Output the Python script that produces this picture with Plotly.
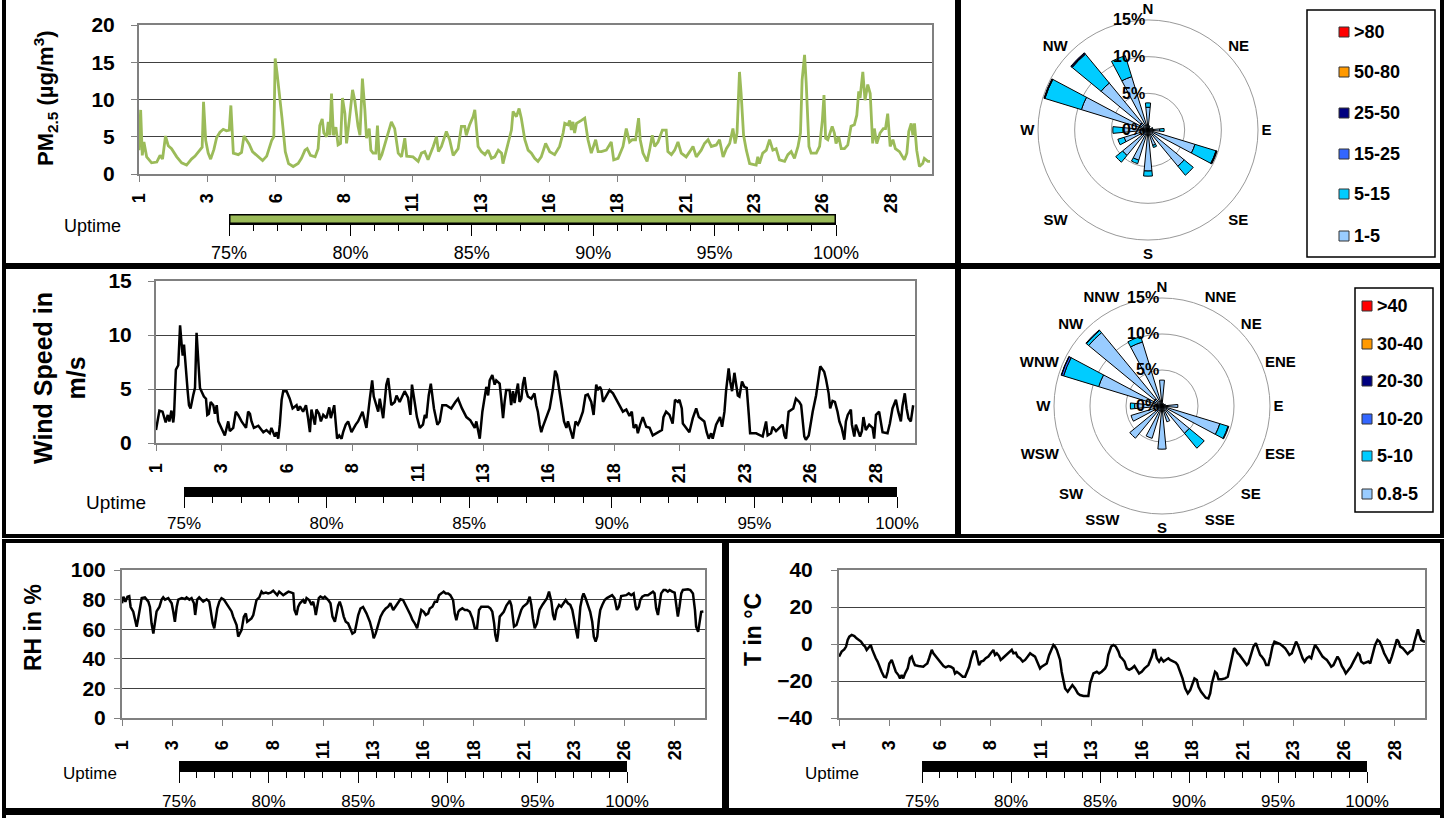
import plotly.graph_objects as go

W, H = 1445, 818
FONT = "Arial, 'Liberation Sans', sans-serif"

# ---------------- data ----------------
day_tickvals = [1, 3.5, 6, 8.5, 11, 13.5, 16, 18.5, 21, 23.5, 26, 28.5]
day_ticktext = ["1", "3", "6", "8", "11", "13", "16", "18", "21", "23", "26", "28"]

pm_day = [1.00, 1.06, 1.12, 1.18, 1.28, 1.46, 1.65, 1.77, 1.86, 1.97, 2.07, 2.19, 2.38, 2.56, 2.74, 2.92,
          3.05, 3.23, 3.31, 3.36, 3.44, 3.53, 3.62, 3.74, 3.84, 3.96, 4.08, 4.20, 4.30, 4.36, 4.45, 4.63,
          4.75, 4.84, 4.96, 5.03, 5.15, 5.32, 5.52, 5.67, 5.85, 5.93, 5.98, 6.05, 6.15, 6.23, 6.35, 6.47,
          6.64, 6.82, 6.94, 7.07, 7.15, 7.27, 7.44, 7.55, 7.61, 7.70, 7.76, 7.86, 7.92, 7.98, 8.04, 8.11,
          8.20, 8.28, 8.37, 8.44, 8.53, 8.59, 8.69, 8.81, 8.89, 9.01, 9.08, 9.17, 9.26, 9.32, 9.42, 9.48,
          9.56, 9.66, 9.72, 9.79, 9.88, 10.05, 10.23, 10.35, 10.48, 10.60, 10.72, 10.79, 11.02, 11.21,
          11.33, 11.45, 11.57, 11.76, 11.88, 11.95, 12.06, 12.24, 12.36, 12.49, 12.67, 12.79, 12.91, 12.97,
          13.09, 13.22, 13.28, 13.40, 13.52, 13.65, 13.77, 13.89, 14.01, 14.14, 14.26, 14.31, 14.44, 14.56,
          14.62, 14.68, 14.80, 14.90, 14.98, 15.11, 15.23, 15.35, 15.47, 15.59, 15.71, 15.87, 16.02, 16.20,
          16.38, 16.51, 16.57, 16.69, 16.75, 16.81, 16.87, 16.93, 17.00, 17.18, 17.30, 17.42, 17.54, 17.70,
          17.79, 17.91, 18.09, 18.27, 18.36, 18.52, 18.70, 18.82, 18.94, 19.04, 19.16, 19.27, 19.33, 19.43,
          19.58, 19.67, 19.77, 19.86, 19.98, 20.14, 20.28, 20.34, 20.47, 20.59, 20.71, 20.83, 21.01, 21.14,
          21.26, 21.38, 21.56, 21.68, 21.81, 21.93, 22.11, 22.23, 22.36, 22.48, 22.60, 22.72, 22.80, 22.87,
          22.96, 23.02, 23.11, 23.21, 23.33, 23.45, 23.57, 23.63, 23.69, 23.81, 23.94, 24.06, 24.18, 24.30,
          24.42, 24.61, 24.73, 24.85, 24.97, 25.10, 25.19, 25.25, 25.34, 25.40, 25.50, 25.58, 25.77, 25.89,
          25.99, 26.05, 26.11, 26.19, 26.35, 26.43, 26.49, 26.59, 26.68, 26.80, 26.92, 27.04, 27.16, 27.25,
          27.32, 27.37, 27.47, 27.55, 27.65, 27.74, 27.83, 27.89, 27.98, 28.10, 28.22, 28.30, 28.38, 28.47,
          28.57, 28.66, 28.81, 28.99, 29.08, 29.15, 29.24, 29.30, 29.36, 29.44, 29.54, 29.66, 29.72, 29.85,
          29.93]
pm_val = [3.2, 8.6, 2.5, 4.3, 2.3, 1.5, 1.6, 2.5, 2.0, 5.1, 3.8, 3.4, 2.3, 1.5, 1.2, 2.0,
          2.4, 3.2, 3.6, 9.7, 4.5, 2.8, 2.0, 3.3, 4.9, 5.6, 6.0, 5.8, 5.9, 9.2, 2.8, 2.6,
          2.9, 5.1, 4.5, 4.0, 3.0, 2.5, 1.8, 2.4, 4.5, 5.0, 15.5, 13.5, 10.3, 7.5, 3.0, 1.4,
          1.0, 1.4, 2.1, 3.2, 3.4, 2.5, 2.3, 3.4, 6.5, 7.4, 5.5, 5.0, 7.0, 5.2, 10.8, 5.2,
          6.3, 3.9, 4.1, 10.2, 8.1, 4.1, 7.2, 11.3, 9.9, 6.4, 5.2, 12.8, 8.6, 4.8, 6.1, 3.2,
          2.8, 2.8, 6.5, 1.9, 2.6, 4.8, 7.0, 6.1, 2.8, 2.3, 4.8, 2.4, 2.3, 1.7,
          2.8, 3.0, 1.9, 3.7, 5.0, 3.0, 3.7, 5.7, 4.6, 2.5, 3.4, 6.4, 6.4, 5.2,
          6.6, 7.7, 8.6, 3.7, 3.0, 2.6, 3.2, 2.1, 2.3, 3.2, 2.8, 1.4, 3.2, 5.0,
          5.9, 8.4, 7.7, 8.8, 7.5, 4.6, 3.2, 2.8, 2.1, 1.7, 2.3, 4.1, 3.0, 2.6,
          3.7, 5.5, 6.8, 6.6, 7.2, 5.9, 7.0, 5.5, 6.8, 7.2, 7.5, 4.6, 2.8, 4.6,
          3.0, 3.0, 3.2, 4.3, 1.9, 2.1, 3.7, 6.1, 4.3, 4.6, 4.6, 7.5, 4.6, 2.8,
          1.7, 3.2, 5.2, 3.7, 4.3, 5.9, 5.9, 3.0, 2.6, 3.2, 4.3, 2.8, 2.3, 3.0,
          3.7, 2.3, 3.2, 4.1, 4.6, 3.7, 3.9, 4.6, 2.3, 3.4, 4.1, 6.1, 4.1, 5.5,
          13.7, 10.8, 5.2, 3.2, 1.4, 1.3, 1.2, 2.3, 1.4, 2.8, 3.2, 4.6, 3.2, 3.4,
          1.9, 1.7, 2.6, 3.0, 2.1, 3.7, 5.5, 12.6, 16.0, 12.2, 3.7, 2.8, 2.8, 3.7,
          7.2, 10.6, 4.8, 4.6, 6.4, 5.5, 4.1, 5.0, 3.4, 3.4, 3.9, 6.4, 6.6, 7.9,
          11.1, 10.2, 13.7, 9.9, 12.0, 10.8, 4.1, 6.1, 4.1, 5.5, 6.1, 6.1, 8.1, 3.7,
          4.6, 3.4, 3.0, 1.9, 2.8, 5.7, 6.8, 5.2, 6.8, 3.2, 1.0, 1.4, 2.1, 1.7,
          1.7]

ws_day = [1.00, 1.13, 1.25, 1.37, 1.45, 1.51, 1.59, 1.66, 1.69, 1.76, 1.85, 1.92, 1.98, 2.02, 2.07, 2.15,
          2.21, 2.26, 2.32, 2.42, 2.49, 2.55, 2.63, 2.68, 2.83, 2.91, 2.96, 3.02, 3.09, 3.19, 3.25, 3.32,
          3.38, 3.51, 3.63, 3.76, 3.82, 3.95, 4.05, 4.14, 4.27, 4.44, 4.52, 4.59, 4.65, 4.74, 4.91, 5.10,
          5.22, 5.35, 5.41, 5.54, 5.61, 5.67, 5.73, 5.80, 5.86, 5.99, 6.11, 6.22, 6.37, 6.43, 6.50, 6.62,
          6.73, 6.81, 6.88, 6.94, 7.07, 7.13, 7.23, 7.30, 7.39, 7.51, 7.62, 7.68, 7.81, 7.87, 7.92, 8.00,
          8.09, 8.15, 8.25, 8.34, 8.47, 8.63, 8.72, 8.89, 9.04, 9.17, 9.26, 9.32, 9.49, 9.55, 9.68, 9.80,
          9.87, 9.99, 10.12, 10.19, 10.31, 10.50, 10.63, 10.72, 10.78, 10.85, 10.97, 11.08, 11.20, 11.27,
          11.33, 11.42, 11.50, 11.62, 11.75, 11.84, 11.94, 12.09, 12.28, 12.44, 12.54, 12.69, 12.86, 13.01,
          13.18, 13.24, 13.30, 13.37, 13.47, 13.56, 13.62, 13.69, 13.75, 13.85, 13.94, 14.00, 14.13, 14.19,
          14.26, 14.32, 14.38, 14.51, 14.57, 14.64, 14.70, 14.76, 14.83, 14.89, 14.96, 15.02, 15.08, 15.15,
          15.21, 15.34, 15.46, 15.53, 15.59, 15.66, 15.72, 15.78, 15.91, 16.04, 16.16, 16.25, 16.32, 16.42,
          16.51, 16.59, 16.68, 16.74, 16.87, 16.93, 17.03, 17.12, 17.18, 17.31, 17.41, 17.50, 17.63, 17.72,
          17.82, 17.88, 17.96, 18.02, 18.08, 18.20, 18.33, 18.46, 18.58, 18.71, 18.84, 18.97, 19.09, 19.18,
          19.25, 19.35, 19.41, 19.50, 19.60, 19.73, 19.86, 19.98, 20.11, 20.33, 20.39, 20.49, 20.62, 20.74,
          20.83, 20.94, 21.00, 21.09, 21.13, 21.25, 21.38, 21.51, 21.64, 21.74, 21.95, 22.04, 22.12, 22.21,
          22.27, 22.40, 22.55, 22.63, 22.72, 22.78, 22.88, 22.94, 23.01, 23.10, 23.16, 23.23, 23.29, 23.39,
          23.48, 23.57, 23.65, 23.70, 23.93, 24.18, 24.31, 24.37, 24.50, 24.56, 24.69, 24.94, 25.01, 25.07,
          25.17, 25.35, 25.45, 25.58, 25.65, 25.71, 25.77, 25.83, 25.94, 26.03, 26.09, 26.22, 26.32, 26.38,
          26.53, 26.60, 26.70, 26.76, 26.85, 26.94, 27.04, 27.11, 27.20, 27.30, 27.36, 27.43, 27.55, 27.59,
          27.68, 27.74, 27.90, 27.97, 28.03, 28.12, 28.25, 28.38, 28.44, 28.51, 28.63, 28.70, 28.76, 28.95,
          29.04, 29.14, 29.27, 29.36, 29.46, 29.52, 29.61, 29.68, 29.75, 29.84, 29.93]
ws_val = [1.2, 3.0, 2.9, 1.9, 2.6, 2.0, 3.0, 1.9, 2.6, 6.8, 7.2, 10.9, 9.1, 8.1, 9.1, 6.3,
          4.8, 3.5, 3.2, 4.4, 5.1, 10.2, 7.2, 5.1, 4.3, 4.1, 2.6, 2.7, 3.8, 3.5, 2.7, 3.5,
          2.0, 1.4, 0.7, 2.0, 1.1, 1.4, 2.9, 2.6, 2.0, 1.4, 2.9, 2.7, 2.0, 1.4, 1.6, 1.0,
          1.2, 0.9, 1.4, 0.6, 1.0, 0.4, 1.7, 4.0, 4.8, 4.8, 4.1, 3.2, 3.5, 3.0, 3.4, 2.9,
          3.5, 2.3, 1.0, 3.1, 1.7, 3.1, 2.7, 2.0, 2.6, 2.3, 3.3, 2.3, 3.5, 1.8, 0.4, 0.7,
          0.4, 1.0, 1.7, 2.0, 1.0, 1.7, 2.0, 2.9, 1.4, 4.1, 5.8, 4.3, 2.9, 4.1, 2.3, 5.4,
          6.0, 3.5, 3.8, 4.4, 3.8, 4.8, 4.2, 2.6, 5.4, 4.3, 2.4, 1.4, 1.7, 2.6,
          2.3, 4.4, 5.5, 3.2, 1.7, 2.0, 3.5, 3.5, 3.2, 3.8, 4.1, 3.2, 2.4, 2.1,
          1.4, 2.0, 1.1, 0.4, 2.9, 4.1, 5.2, 4.4, 5.8, 6.3, 5.4, 5.8, 5.5, 4.1,
          2.3, 3.8, 4.9, 4.9, 3.5, 4.8, 3.7, 4.6, 5.5, 3.8, 4.1, 5.5, 6.1, 4.8,
          4.3, 4.1, 4.6, 3.5, 2.9, 1.7, 1.0, 1.5, 2.3, 3.2, 4.9, 6.7, 6.3, 4.8,
          3.2, 2.0, 1.4, 2.0, 0.9, 0.4, 2.0, 1.7, 2.0, 2.9, 4.4, 4.5, 3.8, 2.6,
          5.4, 4.9, 5.2, 4.9, 3.8, 4.4, 4.9, 4.6, 4.1, 3.5, 2.9, 3.1, 2.5, 2.9,
          1.4, 1.7, 0.9, 1.7, 2.4, 1.5, 1.4, 0.7, 0.9, 1.2, 2.4, 2.9, 2.6, 1.8,
          4.0, 3.8, 4.0, 3.2, 1.8, 1.4, 1.0, 2.3, 3.2, 2.4, 2.0, 1.0, 0.4, 0.9,
          0.4, 1.7, 2.4, 1.5, 2.9, 4.8, 6.9, 5.7, 4.8, 6.5, 5.7, 4.4, 4.3, 5.7,
          5.2, 5.1, 2.6, 0.9, 0.9, 0.6, 2.0, 0.7, 0.9, 1.5, 1.1, 1.7, 0.7, 0.4,
          2.9, 3.2, 4.1, 3.8, 3.5, 2.3, 0.6, 0.3, 0.7, 2.0, 2.9, 4.4, 6.3, 7.1,
          6.6, 5.9, 4.6, 3.2, 3.9, 3.8, 2.9, 2.0, 1.4, 0.3, 2.0, 2.6, 3.1, 1.7,
          0.6, 1.7, 0.6, 1.1, 2.4, 1.2, 1.7, 1.4, 0.4, 2.6, 2.9, 1.7, 1.0, 0.9,
          1.8, 3.2, 4.0, 2.9, 2.0, 3.4, 4.6, 3.2, 2.3, 2.0, 3.5]

rh_day = [1.00, 1.07, 1.17, 1.27, 1.36, 1.43, 1.56, 1.65, 1.73, 1.81, 1.89, 1.98, 2.14, 2.23, 2.31, 2.39,
          2.47, 2.56, 2.64, 2.72, 2.86, 2.97, 3.05, 3.14, 3.30, 3.47, 3.55, 3.63, 3.72, 3.80, 3.97, 4.13,
          4.21, 4.35, 4.46, 4.58, 4.64, 4.74, 4.84, 5.04, 5.21, 5.34, 5.42, 5.51, 5.59, 5.67, 5.74, 5.84,
          5.95, 6.07, 6.20, 6.33, 6.45, 6.53, 6.62, 6.70, 6.78, 6.86, 6.95, 7.06, 7.16, 7.23, 7.33, 7.44,
          7.53, 7.61, 7.69, 7.83, 7.94, 8.02, 8.16, 8.27, 8.39, 8.52, 8.62, 8.72, 8.82, 8.94, 9.02, 9.15,
          9.28, 9.43, 9.52, 9.58, 9.68, 9.76, 9.85, 10.01, 10.10, 10.18, 10.31, 10.43, 10.51, 10.59, 10.64,
          10.71, 10.79, 10.87, 11.01, 11.09, 11.26, 11.37, 11.47, 11.59, 11.67, 11.75, 11.83, 11.92, 12.03,
          12.13, 12.25, 12.37, 12.46, 12.58, 12.66, 12.75, 12.86, 12.99, 13.16, 13.33, 13.46, 13.52, 13.62,
          13.74, 13.86, 13.99, 14.12, 14.24, 14.35, 14.49, 14.60, 14.73, 14.85, 14.98, 15.11, 15.23, 15.35,
          15.45, 15.56, 15.68, 15.78, 15.89, 16.01, 16.11, 16.23, 16.31, 16.44, 16.56, 16.67, 16.77, 16.89,
          17.00, 17.10, 17.22, 17.33, 17.47, 17.55, 17.63, 17.73, 17.80, 17.93, 18.05, 18.17, 18.30, 18.43,
          18.55, 18.66, 18.76, 18.87, 19.04, 19.21, 19.32, 19.42, 19.51, 19.57, 19.65, 19.70, 19.79, 19.87,
          19.99, 20.12, 20.29, 20.37, 20.45, 20.50, 20.62, 20.75, 20.86, 20.95, 21.06, 21.16, 21.28, 21.36,
          21.44, 21.53, 21.64, 21.77, 21.91, 22.02, 22.14, 22.24, 22.36, 22.44, 22.52, 22.61, 22.74, 22.85,
          22.97, 23.07, 23.18, 23.30, 23.40, 23.51, 23.60, 23.67, 23.73, 23.80, 23.90, 23.96, 24.06, 24.18,
          24.29, 24.39, 24.47, 24.56, 24.64, 24.72, 24.79, 24.89, 25.01, 25.12, 25.25, 25.38, 25.50, 25.62,
          25.72, 25.83, 26.08, 26.21, 26.33, 26.45, 26.55, 26.61, 26.71, 26.78, 26.88, 27.01, 27.16, 27.28,
          27.41, 27.49, 27.57, 27.66, 27.74, 27.82, 27.94, 28.04, 28.15, 28.24, 28.37, 28.49, 28.57, 28.65,
          28.73, 28.82, 28.90, 29.03, 29.15, 29.27, 29.40, 29.50, 29.56, 29.66, 29.73, 29.81, 29.92]
rh_val = [77.5, 82.0, 78.6, 82.0, 82.4, 75.0, 71.8, 66.0, 61.7, 67.6, 75.0, 81.0, 81.5, 80.0, 78.6, 75.0,
          64.0, 57.0, 66.0, 72.0, 75.0, 80.0, 81.5, 80.0, 81.0, 77.5, 72.0, 65.0, 75.0, 80.0, 81.0, 80.4,
          81.5, 80.0, 81.0, 77.5, 69.6, 80.0, 81.5, 78.6, 80.2, 78.6, 72.0, 64.0, 60.6, 67.3, 74.0, 78.6,
          81.0, 80.0, 77.5, 75.0, 72.0, 68.5, 66.0, 62.8, 55.0, 57.0, 59.5, 68.5, 70.7, 65.0, 66.0, 67.3,
          69.6, 75.0, 79.7, 81.5, 85.4, 84.2, 84.7, 84.2, 84.7, 86.0, 84.7, 83.0, 85.4, 83.8, 83.0, 84.2,
          85.4, 84.7, 84.2, 73.0, 69.6, 75.0, 77.5, 79.7, 77.5, 81.0, 79.7, 76.4, 78.6, 74.0, 69.6,
          75.0, 81.0, 82.0, 81.0, 82.0, 79.7, 77.5, 68.5, 65.0, 71.8, 76.0, 78.6, 75.0, 68.5,
          65.0, 63.9, 60.6, 57.0, 58.1, 63.9, 69.6, 74.0, 75.0, 70.7, 65.0, 58.3, 53.8, 57.2,
          62.8, 68.5, 71.8, 74.0, 75.2, 77.5, 73.0, 75.2, 78.6, 80.2, 79.7, 76.4, 73.0, 69.6,
          66.2, 64.0, 60.6, 66.2, 73.0, 71.8, 69.6, 70.7, 74.0, 75.2, 78.6, 78.6, 83.0, 84.2,
          85.4, 84.2, 84.2, 83.0, 79.7, 70.7, 66.0, 71.8, 73.0, 74.1, 73.0, 73.0, 71.8, 67.3,
          60.6, 60.6, 73.0, 75.2, 75.2, 75.2, 74.1, 71.8, 64.0, 56.0, 51.6, 56.0, 68.5, 69.6,
          71.8, 76.0, 79.3, 76.0, 67.3, 61.7, 62.8, 68.5, 73.0, 75.2, 76.4, 77.5, 82.0, 76.4,
          67.3, 60.6, 63.9, 73.0, 76.4, 78.6, 81.0, 85.4, 78.6, 69.6, 66.2, 73.0, 76.4, 75.2,
          77.5, 79.7, 77.5, 76.4, 73.0, 66.2, 58.3, 53.8, 66.2, 75.2, 82.0, 84.2, 80.9, 76.4,
          71.8, 65.0, 55.0, 51.6, 55.0, 66.2, 73.0, 76.4, 79.7, 81.0, 82.0, 83.0, 80.9, 73.0,
          75.2, 82.4, 83.0, 84.2, 83.0, 84.2, 75.2, 73.0, 75.2, 79.7, 82.0, 83.0, 83.0, 84.2,
          85.4, 84.2, 74.1, 69.6, 76.4, 84.2, 86.5, 86.5, 85.4, 86.5, 85.4, 84.7, 76.4, 68.5,
          75.2, 84.2, 86.5, 87.0, 87.0, 86.5, 84.2, 73.0, 61.7, 58.3, 65.0, 71.8, 72.0]

t_day = [1.00, 1.13, 1.26, 1.35, 1.43, 1.51, 1.63, 1.76, 1.87, 1.96, 2.09, 2.20, 2.29, 2.37, 2.45, 2.57,
         2.65, 2.73, 2.82, 2.91, 3.00, 3.11, 3.23, 3.33, 3.41, 3.49, 3.61, 3.69, 3.81, 3.94, 4.02, 4.10,
         4.18, 4.27, 4.40, 4.51, 4.60, 4.68, 4.76, 4.93, 5.09, 5.17, 5.26, 5.37, 5.46, 5.59, 5.67, 5.79,
         5.92, 6.05, 6.17, 6.28, 6.41, 6.53, 6.66, 6.74, 6.83, 6.94, 7.04, 7.12, 7.24, 7.32, 7.44, 7.53,
         7.65, 7.77, 7.85, 7.93, 8.03, 8.15, 8.26, 8.39, 8.51, 8.64, 8.72, 8.81, 8.92, 9.00, 9.10, 9.18,
         9.30, 9.42, 9.55, 9.63, 9.75, 9.84, 9.96, 10.09, 10.21, 10.34, 10.46, 10.57, 10.70, 10.83, 10.95,
         11.03, 11.17, 11.28, 11.40, 11.50, 11.61, 11.69, 11.78, 11.86, 11.94, 12.02, 12.11, 12.19, 12.32,
         12.44, 12.55, 12.68, 12.82, 12.93, 13.10, 13.34, 13.43, 13.59, 13.76, 13.87, 14.00, 14.17, 14.25,
         14.33, 14.47, 14.58, 14.70, 14.83, 14.91, 15.00, 15.13, 15.24, 15.36, 15.49, 15.62, 15.74, 15.85,
         15.98, 16.12, 16.31, 16.48, 16.56, 16.64, 16.73, 16.84, 16.94, 17.06, 17.17, 17.30, 17.39, 17.55,
         17.67, 17.76, 17.88, 18.00, 18.13, 18.26, 18.38, 18.49, 18.59, 18.71, 18.79, 18.92, 19.04, 19.15,
         19.28, 19.37, 19.45, 19.53, 19.61, 19.70, 19.78, 19.94, 20.11, 20.24, 20.32, 20.44, 20.55, 20.64,
         20.73, 20.82, 20.93, 21.06, 21.18, 21.26, 21.38, 21.51, 21.63, 21.76, 21.84, 21.92, 22.04, 22.14,
         22.25, 22.35, 22.45, 22.55, 22.67, 22.83, 22.95, 23.08, 23.19, 23.29, 23.41, 23.52, 23.62, 23.71,
         23.82, 23.94, 24.04, 24.15, 24.27, 24.37, 24.48, 24.56, 24.68, 24.81, 24.93, 25.03, 25.14, 25.26,
         25.36, 25.47, 25.59, 25.67, 25.77, 25.88, 26.00, 26.08, 26.21, 26.33, 26.46, 26.58, 26.68, 26.76,
         26.84, 26.96, 27.07, 27.20, 27.29, 27.40, 27.53, 27.65, 27.75, 27.86, 27.98, 28.11, 28.24, 28.36,
         28.49, 28.61, 28.69, 28.77, 28.90, 29.02, 29.14, 29.26, 29.38, 29.48, 29.56, 29.65, 29.73, 29.81,
         29.93, 30.00]
t_val = [-6.8, -4.1, -2.9, -1.4, 2.2, 4.0, 4.9, 4.3, 3.1, 2.2, 1.3, -0.5, -1.4, -3.2, -2.3, -0.5,
         -3.2, -5.9, -7.7, -9.5, -12.3, -15.0, -17.7, -18.0, -15.0, -10.5, -8.6, -11.4, -15.0, -16.8, -18.6, -16.8,
         -18.6, -15.9, -13.2, -7.7, -6.8, -9.5, -11.4, -11.9, -11.9, -12.3, -11.4, -10.5, -7.7, -3.2, -5.0, -6.8,
         -8.6, -10.5, -11.9, -12.6, -11.9, -12.3, -13.2, -15.9, -15.0, -15.9, -16.8, -17.7, -17.7, -15.9, -12.3, -8.3,
         -4.1, -4.1, -8.6, -11.4, -9.5, -9.0, -7.7, -6.8, -5.0, -3.2, -5.9, -5.0, -6.5, -8.6, -7.7, -6.8,
         -5.9, -4.1, -3.2, -5.0, -4.7, -6.8, -7.7, -9.5, -8.6, -6.8, -5.0, -5.9, -6.8, -10.1, -13.2,
         -12.3, -11.4, -10.5, -5.9, -2.9, -0.5, -1.4, -3.2, -5.9, -8.6, -15.0, -20.4, -24.0, -25.8,
         -24.0, -22.2, -24.0, -26.7, -27.6, -28.1, -28.1, -21.3, -15.9, -15.0, -15.9, -15.0, -13.2, -11.4,
         -5.9, -1.4, -0.5, -1.4, -4.1, -6.8, -7.7, -9.5, -13.2, -14.0, -13.2, -11.9, -14.0, -15.9,
         -15.0, -13.2, -11.4, -6.8, -3.2, -3.2, -7.7, -9.5, -7.7, -9.5, -8.6, -7.7, -8.6, -9.5,
         -10.1, -11.4, -15.0, -18.6, -24.0, -26.7, -24.9, -21.3, -18.6, -19.5, -23.1, -25.8, -27.6, -29.0,
         -29.4, -26.7, -21.3, -17.7, -15.0, -15.9, -19.1, -19.1, -18.6, -17.7, -14.0, -6.8, -2.3, -3.2,
         -5.0, -5.9, -7.7, -9.5, -11.4, -10.5, -5.9, -1.4, 0.4, -3.2, -5.9, -6.8, -8.6, -11.4,
         -11.4, -6.8, -1.4, 1.3, 0.7, 0.0, -1.1, -2.3, -4.1, -5.9, -5.0, -1.4, 1.3, -0.5,
         -4.1, -7.7, -9.5, -7.7, -6.8, -7.7, -3.2, -0.5, -2.3, -5.0, -6.8, -7.7, -8.6, -10.5,
         -12.3, -11.4, -8.6, -6.8, -8.6, -11.9, -14.0, -15.9, -14.0, -12.3, -9.5, -6.8, -5.0, -5.9,
         -9.5, -10.5, -10.1, -9.5, -10.5, -5.9, -0.5, 2.2, 1.3, -1.4, -5.0, -7.7, -10.5, -6.8,
         -1.1, 2.5, 1.3, -1.4, -2.3, -4.1, -5.4, -4.1, -3.2, 1.3, 4.9, 7.9, 4.9, 2.2,
         1.3, 1.3]

uptime_ticks = [75, 80, 85, 90, 95, 100]
uptime_labels = ["75%", "80%", "85%", "90%", "95%", "100%"]
pm_uptime = 100
ws_uptime = 100
rh_uptime = 100
t_uptime = 100

rose_dirs = [0, 22.5, 45, 67.5, 90, 112.5, 135, 157.5, 180, 202.5, 225, 247.5, 270, 292.5, 315, 337.5]
compass8_vals = [0, 45, 90, 135, 180, 225, 270, 315]
compass8_text = ["N", "NE", "E", "SE", "S", "SW", "W", "NW"]
compass16_text = ["N", "NNE", "NE", "ENE", "E", "ESE", "SE", "SSE",
                  "S", "SSW", "SW", "WSW", "W", "WNW", "NW", "NNW"]
rose_colors = ["#99CCFF", "#00CCFF", "#3366FF", "#000080", "#FF9900", "#FF0000"]

# PM2.5 rose: % of time per direction, by PM2.5 class (µg/m³)
pm_rose_bins = ["1-5", "5-15", "15-25", "25-50", "50-80", ">80"]
pm_rose_1_5 = [3.1, 0.5, 0.3, 0.6, 1.6, 6.7, 6.4, 2.2, 5.6, 4.3, 4.5, 3.4, 3.4, 9.5, 8.3, 7.6]
pm_rose_5_15 = [0.6, 0.1, 0.0, 0.1, 0.6, 3.0, 1.6, 0.3, 0.7, 0.5, 1.2, 0.9, 1.4, 5.2, 5.1, 3.0]
pm_rose_15_25 = [0, 0, 0, 0, 0, 0.05, 0, 0, 0, 0, 0, 0, 0, 0.05, 0.1, 0]
pm_rose_25_50 = [0, 0, 0, 0, 0, 0.1, 0, 0, 0, 0, 0, 0, 0, 0.1, 0.15, 0]
pm_rose_50_80 = [0] * 16
pm_rose_gt80 = [0] * 16

# wind speed rose: % of time per direction, by speed class (m/s)
ws_rose_bins = ["0.8-5", "5-10", "10-20", "20-30", "30-40", ">40"]
ws_rose_08_5 = [3.6, 0.4, 0.3, 0.5, 2.2, 8.4, 4.9, 2.3, 6.0, 4.7, 5.8, 4.5, 3.8, 9.2, 13.2, 9.3]
ws_rose_5_10 = [0, 0, 0, 0, 0, 1.2, 2.7, 0, 0, 0, 0, 0, 0.6, 5.1, 0.4, 0.8]
ws_rose_10_20 = [0, 0, 0, 0, 0, 0.1, 0, 0, 0, 0, 0, 0, 0, 0.3, 0.1, 0]
ws_rose_20_30 = [0, 0, 0, 0, 0, 0, 0, 0, 0, 0, 0, 0, 0, 0.05, 0, 0]
ws_rose_30_40 = [0] * 16
ws_rose_gt40 = [0] * 16


# ---------------- helpers (pixel -> paper) ----------------
def fx(p):
    return p / W


def fy(p):
    return 1 - p / H


def bold(size):
    return dict(family=FONT, size=size, color="black", weight="bold")


def plain(size):
    return dict(family=FONT, size=size, color="black")


fig = go.Figure()
layout = {}


def ts_axes(n, x0, x1, ytop, ybot, yrange, ydtick, ystand, xstand):
    xk = "xaxis" if n == 1 else f"xaxis{n}"
    yk = "yaxis" if n == 1 else f"yaxis{n}"
    layout[xk] = dict(domain=[fx(x0), fx(x1)], anchor="y" if n == 1 else f"y{n}",
                      range=[1, 30], tickmode="array", tickvals=day_tickvals, ticktext=day_ticktext,
                      tickangle=-90, ticks="outside", ticklen=6, tickcolor="#808080",
                      showline=True, mirror=True, linecolor="#808080", linewidth=2,
                      showgrid=False, zeroline=False, tickfont=bold(18), ticklabelstandoff=xstand,
                      automargin=False)
    layout[yk] = dict(domain=[fy(ybot), fy(ytop)], anchor="x" if n == 1 else f"x{n}",
                      range=yrange, tick0=yrange[0], dtick=ydtick, ticks="outside", ticklen=6,
                      tickcolor="#808080", showline=True, mirror=True, linecolor="#808080",
                      linewidth=2, showgrid=True, gridcolor="#404040", gridwidth=1,
                      zeroline=False, tickfont=bold(21), ticklabelstandoff=ystand, automargin=False)


def up_axes(n, x0, x1, ytop, ybot, fsize, stand):
    layout[f"xaxis{n}"] = dict(domain=[fx(x0), fx(x1)], anchor=f"y{n}", range=[75, 100],
                               tickmode="array", tickvals=uptime_ticks, ticktext=uptime_labels,
                               ticks="outside", ticklen=11, tickcolor="black", tickwidth=1,
                               minor=dict(tick0=75, dtick=1, ticks="outside", ticklen=6,
                                          tickcolor="black", tickwidth=1),
                               showline=True, linecolor="black", linewidth=1, showgrid=False,
                               zeroline=False, tickfont=plain(fsize), ticklabelstandoff=stand,
                               automargin=False)
    layout[f"yaxis{n}"] = dict(domain=[fy(ybot), fy(ytop)], anchor=f"x{n}", range=[-0.5, 0.5],
                               visible=False, automargin=False)


# time series panels
ts_axes(1, 139, 932, 25, 174, [0, 20], 5, 12, 4)
ts_axes(3, 156, 915, 281, 443, [0, 15], 5, 12, 5)
ts_axes(5, 122, 705, 570, 718, [0, 100], 20, 4, 7)
ts_axes(7, 839, 1425, 570, 718, [-40, 40], 20, 14, 7)

up_axes(2, 229, 836, 214, 224, 18, 1)
up_axes(4, 184, 897, 487, 496, 17, 1)
up_axes(6, 179, 627, 761, 771, 17, 4)
up_axes(8, 922, 1367, 761, 771, 17, 4)

fig.add_trace(go.Scatter(x=pm_day, y=pm_val, mode="lines", line=dict(color="#9BBB59", width=2.8),
                         xaxis="x", yaxis="y", showlegend=False))
fig.add_trace(go.Scatter(x=ws_day, y=ws_val, mode="lines", line=dict(color="black", width=2.5),
                         xaxis="x3", yaxis="y3", showlegend=False))
fig.add_trace(go.Scatter(x=rh_day, y=rh_val, mode="lines", line=dict(color="black", width=2.5),
                         xaxis="x5", yaxis="y5", showlegend=False))
fig.add_trace(go.Scatter(x=t_day, y=t_val, mode="lines", line=dict(color="black", width=2.5),
                         xaxis="x7", yaxis="y7", showlegend=False))

for n, val, col, lw in [(2, pm_uptime, "#9BBB59", 3), (4, ws_uptime, "black", 1),
                        (6, rh_uptime, "black", 1), (8, t_uptime, "black", 1)]:
    fig.add_trace(go.Bar(x=[val - 75], base=[75], y=[0], orientation="h", width=1,
                         marker=dict(color=col, line=dict(color="black", width=lw)),
                         xaxis=f"x{n}", yaxis=f"y{n}", showlegend=False))

# wind roses
pm_rose = [pm_rose_1_5, pm_rose_5_15, pm_rose_15_25, pm_rose_25_50, pm_rose_50_80, pm_rose_gt80]
ws_rose = [ws_rose_08_5, ws_rose_5_10, ws_rose_10_20, ws_rose_20_30, ws_rose_30_40, ws_rose_gt40]
for sub, bins, data in [("polar", pm_rose_bins, pm_rose), ("polar2", ws_rose_bins, ws_rose)]:
    for name, col, vals in zip(bins, rose_colors, data):
        th = [d for d, v in zip(rose_dirs, vals) if v > 0]
        rr = [v for v in vals if v > 0]
        if not rr:
            continue
        fig.add_trace(go.Barpolar(r=rr, theta=th, width=11, name=name, subplot=sub,
                                  marker=dict(color=col, line=dict(color="black", width=1)),
                                  showlegend=False))


def polar_cfg(cx, cy, rad, tickvals, ticktext):
    return dict(domain=dict(x=[fx(cx - rad), fx(cx + rad)], y=[fy(cy + rad), fy(cy - rad)]),
                bgcolor="white", barmode="stack",
                angularaxis=dict(direction="clockwise", rotation=90, tickmode="array",
                                 tickvals=tickvals, ticktext=ticktext, showgrid=False,
                                 showline=True, linecolor="#999999", linewidth=1, ticks="",
                                 tickfont=bold(15)),
                radialaxis=dict(range=[0, 15], tickmode="array", tickvals=[0, 5, 10, 15],
                                ticktext=["0%", "5%", "10%", "15%"], angle=90, tickangle=90,
                                showline=False, ticks="", gridcolor="#999999", gridwidth=1,
                                side="counterclockwise", tickfont=bold(16)))


layout["polar"] = polar_cfg(1148, 130, 110, compass8_vals, compass8_text)
layout["polar2"] = polar_cfg(1162, 406, 108, rose_dirs, compass16_text)

shapes = []
annotations = []

# manual legends for the roses
for bins, lx0, lx1, ly0, ly1, sq_x, ys in [
        (pm_rose_bins, 1307, 1435, 10, 257, 1344, [32, 72, 113, 154, 194, 236]),
        (ws_rose_bins, 1355, 1433, 288, 512, 1367, [306, 344, 381, 419, 456, 494])]:
    shapes.append(dict(type="rect", xref="paper", yref="paper", x0=fx(lx0), x1=fx(lx1),
                       y0=fy(ly1), y1=fy(ly0), line=dict(color="black", width=1.5),
                       fillcolor="white", layer="above"))
    for name, col, yy in zip(bins[::-1], rose_colors[::-1], ys):
        shapes.append(dict(type="rect", xref="paper", yref="paper", x0=fx(sq_x - 5), x1=fx(sq_x + 5),
                           y0=fy(yy + 5), y1=fy(yy - 5), fillcolor=col,
                           line=dict(color="#333333", width=1), layer="above"))
        annotations.append(dict(text=name, xref="paper", yref="paper", x=fx(sq_x + 8), y=fy(yy),
                                xanchor="left", yanchor="middle", showarrow=False, font=bold(18)))

# panel frames
for x0, x1, y0, y1 in [(4, 957, -4, 265), (959, 1442, -4, 265), (4, 957, 267, 536),
                       (959, 1442, 267, 536), (4, 724, 541, 810), (727, 1442, 541, 810),
                       (4, 1442, 813, 830)]:
    shapes.append(dict(type="rect", xref="paper", yref="paper", x0=fx(x0), x1=fx(x1),
                       y0=fy(y1), y1=fy(y0), line=dict(color="black", width=4), layer="above"))

# axis titles
for text, x, y, size in [("PM<sub>2.5</sub> (µg/m<sup>3</sup>)", 46, 98, 22),
                         ("Wind Speed in<br>m/s", 60, 378, 25),
                         ("RH in %", 33, 628, 23),
                         ("T in °C", 753, 630, 23)]:
    annotations.append(dict(text=text, xref="paper", yref="paper", x=fx(x), y=fy(y),
                            textangle=-90, showarrow=False, font=bold(size),
                            xanchor="center", yanchor="middle"))

for x, y, size in [(92, 226, 18), (116, 502, 19), (90, 773, 17), (832, 773, 17)]:
    annotations.append(dict(text="Uptime", xref="paper", yref="paper", x=fx(x), y=fy(y),
                            showarrow=False, font=plain(size), xanchor="center", yanchor="middle"))

layout.update(dict(width=W, height=H,
                   margin=dict(l=0, r=0, t=0, b=0, pad=0, autoexpand=False), autosize=False,
                   paper_bgcolor="white", plot_bgcolor="white", showlegend=False,
                   shapes=shapes, annotations=annotations, font=dict(family=FONT)))
fig.update_layout(**layout)

fig.write_html("out.html", config={"displayModeBar": False},
               post_script="document.body.style.margin='0';document.body.style.overflow='hidden';")
